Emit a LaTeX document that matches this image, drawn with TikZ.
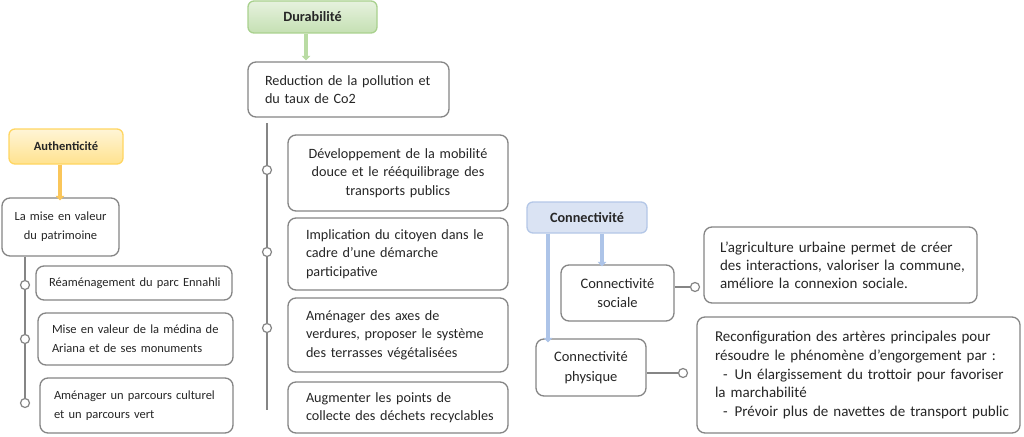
\documentclass[tikz,border=0pt]{standalone}
\usepackage{fontspec}
\setmainfont{Carlito}
\usetikzlibrary{arrows.meta}
\definecolor{bgray}{HTML}{858585}
\definecolor{gbord}{HTML}{A9D18E}
\definecolor{gtop}{HTML}{E6F2DE}
\definecolor{gbot}{HTML}{C5E0B3}
\definecolor{ybord}{HTML}{FFD661}
\definecolor{ytop}{HTML}{FFF5D6}
\definecolor{ybot}{HTML}{FFE28F}
\definecolor{bbord}{HTML}{B4C7E7}
\definecolor{bfill}{HTML}{DAE3F3}
\definecolor{garr}{HTML}{B9DBA3}
\definecolor{yarr}{HTML}{FAC65A}
\definecolor{barr}{HTML}{ADC4E8}
\newcommand\oneline[1]{\mbox{#1}}
\tikzset{
  box/.style={draw=bgray, line width=1.3pt, rounded corners=8pt, fill=white,
    inner sep=0pt, text=black!85},
  lbox/.style={box, align=left},
  cbox/.style={box, align=center},
  fD/.style={font=\fontsize{14.2}{18.5}\selectfont},
  fA/.style={font=\fontsize{12.5}{18.8}\selectfont},
  fC/.style={font=\fontsize{14.5}{19.5}\selectfont},
  title/.style={line width=1.3pt, rounded corners=6pt, inner sep=0pt,
    font=\fontsize{14.2}{16}\selectfont\bfseries, text=black!85},
  dot/.style={circle, draw=bgray, fill=white, line width=1.2pt, minimum size=9pt, inner sep=0pt},
  conn/.style={draw=bgray, line width=1.3pt},
  fat/.style={line width=4pt, -{Triangle[length=4.5pt,width=8.5pt]}},
}
\begin{document}
\begin{tikzpicture}[x=1pt,y=-1pt]
\useasboundingbox[fill=white] (0,0) rectangle (1024,436);

% ---- Durabilite column
\node[title, draw=gbord, top color=gtop, bottom color=gbot, minimum width=129pt, minimum height=32pt] (dur) at (312.5,17) {Durabilité};
\node[lbox, fD, minimum height=55pt, text width=167pt, inner xsep=17pt] (red) at (348.5,89.5) {\oneline{Reduction de la pollution et}\\\oneline{du taux de Co2}};
\node[cbox, fD, minimum height=76pt, text width=220pt] (d1) at (398,173) {Développement de la mobilité\\douce et le rééquilibrage des\\transports publics};
\node[lbox, fD, minimum height=72pt, text width=184pt, inner xsep=18pt] (d2) at (398,254) {\oneline{Implication du citoyen dans le}\\\oneline{cadre d’une démarche}\\\oneline{participative}};
\node[lbox, fD, minimum height=74pt, text width=184pt, inner xsep=18pt] (d3) at (398,335) {\oneline{Aménager des axes de}\\\oneline{verdures, proposer le système}\\\oneline{des terrasses végétalisées}};
\node[lbox, fD, minimum height=51pt, text width=184pt, inner xsep=18pt] (d4) at (398,407.5) {\oneline{Augmenter les points de}\\\oneline{collecte des déchets recyclables}};
\draw[fat, garr] ([xshift=-6.5pt]dur.south) -- ([xshift=-42.5pt,yshift=1pt]red.north);

\coordinate (dtop) at (267,123);
\coordinate (dbot) at (267,410);
\node[dot] (e1) at (267,170) {};
\node[dot] (e2) at (267,252) {};
\node[dot] (e3) at (267,328) {};
\draw[conn] (dtop) -- (e1.north) (e1.south) -- (e2.north) (e2.south) -- (e3.north) (e3.south) -- (dbot);

% ---- Authenticite column
\node[title, draw=ybord, top color=ytop, bottom color=ybot, minimum width=114pt, minimum height=35pt, font=\fontsize{12.5}{15}\selectfont\bfseries] (aut) at (66,146.5) {Authenticité};
\node[cbox, fA, minimum height=58pt, text width=117pt] (mise) at (60.5,227) {La mise en valeur\\du patrimoine};
\node[lbox, fA, minimum height=34pt, text width=170pt, inner xsep=13pt] (a1) at (134,283) {\oneline{Réaménagement du parc Ennahli}};
\node[lbox, fA, minimum height=52pt, text width=167pt, inner xsep=14pt] (a2) at (135.5,339) {\oneline{Mise en valeur de la médina de}\\\oneline{Ariana et de ses monuments}};
\node[lbox, fA, minimum height=55pt, text width=165pt, inner xsep=14pt] (a3) at (136.5,405.5) {\oneline{Aménager un parcours culturel}\\\oneline{et un parcours vert}};
\draw[fat, yarr] ([xshift=-6pt]aut.south) -- ([xshift=-0.5pt,yshift=-3pt]mise.north);

\node[dot] (c1) at (25,285) {};
\node[dot] (c2) at (25,339) {};
\node[dot] (c3) at (25,403) {};
\draw[conn] (mise.south -| c1) -- (c1.north) (c1.south) -- (c2.north) (c2.south) -- (c3.north);

% ---- Connectivite
\node[title, draw=bbord, fill=bfill, minimum width=120pt, minimum height=31pt] (con) at (587,217.5) {Connectivité};
\node[cbox, fC, minimum height=56pt, text width=113pt] (soc) at (617.5,293) {Connectivité\\sociale};
\node[cbox, fC, minimum height=57pt, text width=110pt] (phy) at (591,367.5) {Connectivité\\physique};
\node[lbox, minimum height=76pt, text width=241pt, inner xsep=16pt, font=\fontsize{15}{18}\selectfont] (st) at (840.5,265) {\oneline{L’agriculture urbaine permet de créer}\\\oneline{des interactions, valoriser la commune,}\\\oneline{améliore la connexion sociale.}};
\node[lbox, minimum height=116pt, text width=287pt, inner xsep=18pt, font=\fontsize{15}{18.8}\selectfont] (pt) at (858.5,375) {\oneline{Reconfiguration des artères principales pour}\\\oneline{résoudre le phénomène d’engorgement par :}\\\oneline{\hspace*{8pt}-\hspace*{7pt}Un élargissement du trottoir pour favoriser}\\\oneline{la marchabilité}\\\oneline{\hspace*{8pt}-\hspace*{7pt}Prévoir plus de navettes de transport public}};

\coordinate (cA) at (548,0);
\coordinate (cB) at (602,0);
\draw[fat, barr] (con.south -| cA) -- ([yshift=-4pt]phy.north -| cA);
\draw[fat, barr] (con.south -| cB) -- ([yshift=-2pt]soc.north -| cB);

\node[dot] (s1) at (695,287) {};
\node[dot] (p1) at (683,373) {};
\draw[conn] (soc.east |- s1) -- (s1.west);
\draw[conn] (phy.east |- p1) -- (p1.west);
\end{tikzpicture}
\end{document}
